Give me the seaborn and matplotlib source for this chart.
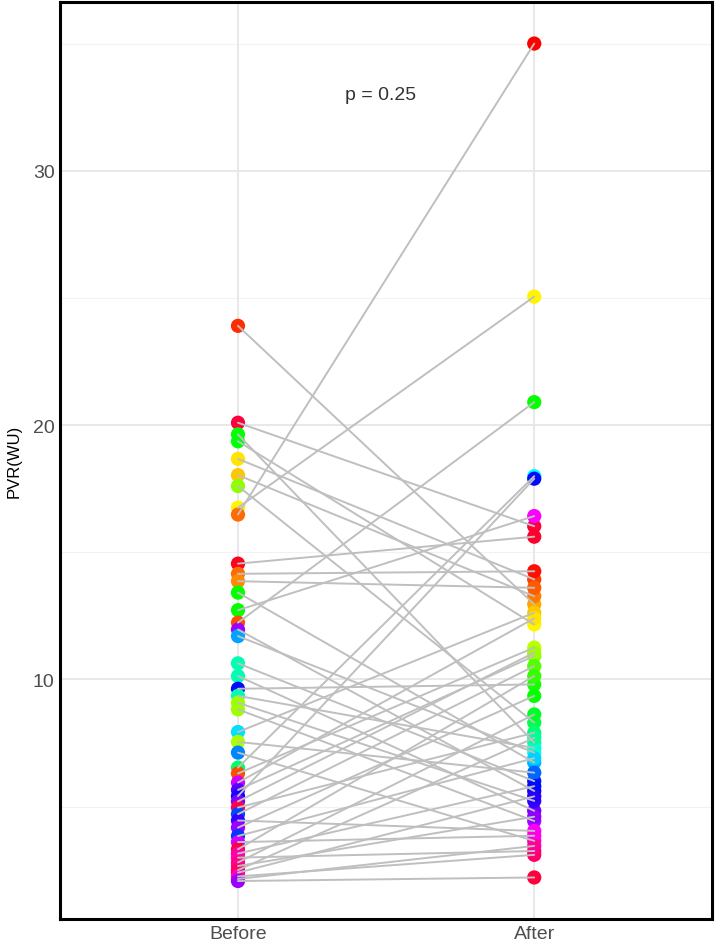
import numpy as np
import pandas as pd
import seaborn as sns
from matplotlib import pyplot as plt
from matplotlib.colors import hsv_to_rgb

# paired PVR values per subject, before / after
before = [23.9, 20.09, 19.63, 19.36, 18.67, 18.03, 17.6, 16.75, 16.48, 14.55,
          14.15, 13.86, 13.41, 12.72, 12.23, 11.96, 11.70, 10.63, 10.13, 9.63,
          9.35, 9.08, 8.82, 7.93, 7.54, 7.12, 6.53, 6.3, 5.94, 5.65,
          5.41, 5.2, 4.96, 4.70, 4.45, 4.17, 3.84, 3.6, 3.32, 3.15,
          2.99, 2.8, 2.66, 2.50, 2.40, 2.25, 2.15, 2.07]
after = [12.95, 16.02, 7.51, 12.16, 13.93, 13.27, 8.3, 25.05, 35.0, 15.61,
         14.25, 13.6, 6.73, 16.42, 20.9, 5.61, 7.12, 6.0, 4.83, 9.8,
         7.3, 5.22, 4.43, 12.62, 6.33, 3.65, 17.99, 11.25, 12.4, 10.92,
         17.89, 11.05, 7.9, 10.52, 4.04, 9.35, 6.9, 3.85, 10.13, 5.8,
         3.25, 8.62, 4.6, 7.7, 5.4, 3.1, 3.45, 2.21]
# rainbow hue of each point
before_hue = [0.03, 0.96, 0.33, 0.34, 0.15, 0.13, 0.24, 0.16, 0.07, 0.98,
              0.07, 0.09, 0.33, 0.33, 0.05, 0.77, 0.56, 0.45, 0.45, 0.66,
              0.45, 0.23, 0.23, 0.52, 0.22, 0.58, 0.40, 0.05, 0.80, 0.72,
              0.68, 0.75, 0.95, 0.62, 0.70, 0.77, 0.63, 0.80, 0.96, 0.90,
              0.88, 0.92, 0.90, 0.93, 0.94, 0.85, 0.90, 0.77]
after_hue = [0.11, 0.96, 0.45, 0.16, 0.04, 0.08, 0.38, 0.16, 0.0, 0.97,
             0.01, 0.06, 0.55, 0.83, 0.33, 0.67, 0.50, 0.65, 0.74, 0.32,
             0.47, 0.70, 0.78, 0.13, 0.60, 0.88, 0.50, 0.21, 0.15, 0.25,
             0.66, 0.23, 0.41, 0.28, 0.83, 0.33, 0.53, 0.85, 0.30, 0.66,
             0.92, 0.36, 0.76, 0.43, 0.69, 0.93, 0.90, 0.96]
groups = ['Before', 'After']
p_label = 'p = 0.25'

n = len(before)
df = pd.DataFrame({
    'subject': list(range(n)) * 2,
    'time': ['Before'] * n + ['After'] * n,
    'pvr': before + after,
    'hue': before_hue + after_hue,
})
df['time'] = pd.Categorical(df['time'], categories=groups, ordered=True)
colors = [tuple(hsv_to_rgb((h, 1.0, 1.0))) for h in df['hue']]

sns.set_style('white')
plt.rcParams['font.family'] = ['Liberation Sans', 'DejaVu Sans']

fig = plt.figure(figsize=(7.17, 9.45), dpi=100)
ax = fig.add_axes([0.084, 0.026, 0.909, 0.971])

# grid like ggplot
for y in [5, 15, 25, 35]:
    ax.axhline(y, color='#f2f2f2', lw=0.8, zorder=0)
for y in [10, 20, 30]:
    ax.axhline(y, color='#e6e6e6', lw=1.3, zorder=0)
for x in [0, 1]:
    ax.axvline(x, color='#e6e6e6', lw=1.3, zorder=0)

sns.scatterplot(data=df, x='time', y='pvr', c=colors, s=105, linewidth=0,
                ax=ax, zorder=2, legend=False)
sns.lineplot(data=df, x='time', y='pvr', units='subject', estimator=None,
             color='#bfbfbf', lw=1.4, ax=ax, zorder=3, legend=False)

ax.text(0.48, 33.0, p_label, ha='center', va='center', fontsize=14, color='#333333')

ax.set_xlim(-0.6, 1.6)
ax.set_ylim(0.56, 36.64)
ax.set_yticks([10, 20, 30])
ax.set_xticks([0, 1])
ax.set_xticklabels(groups)
ax.set_xlabel('')
ax.set_ylabel('PVR(WU)', fontsize=12, color='black', labelpad=8)
ax.tick_params(axis='both', length=0, labelsize=14, colors='#4d4d4d', pad=4)
ax.grid(False)
for sp in ax.spines.values():
    sp.set_visible(True)
    sp.set_color('black')
    sp.set_linewidth(2.2)

fig.savefig('out.png', dpi=100)
